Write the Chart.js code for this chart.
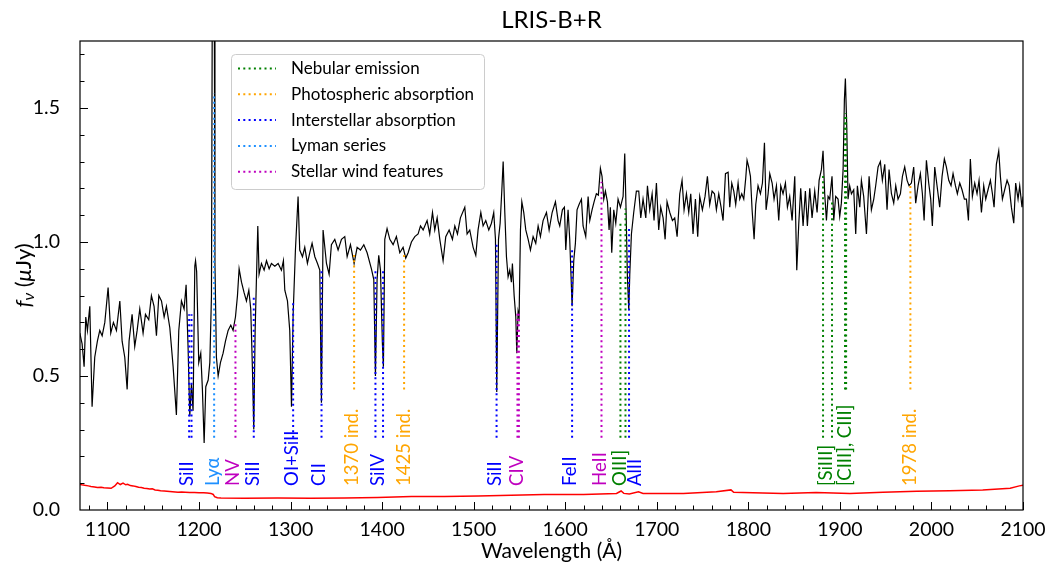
<!DOCTYPE html>
<html>
<head>
<meta charset="utf-8">
<title>LRIS-B+R</title>
<script src="https://cdn.jsdelivr.net/npm/chart.js@4.4.1/dist/chart.umd.min.js"></script>
<style>
  html, body { margin: 0; padding: 0; background: #fff; }
</style>
</head>
<body>
<canvas id="chart" width="1047" height="567"></canvas>
<script>
// Spectrum (wavelength in Angstrom, flux in microJy)
const spectrum = [
  [1069.8,0.66],[1072.3,0.62],[1074.5,0.535],[1076.3,0.72],[1078.1,0.67],[1080.7,0.76],[1083.2,0.385],[1086.1,0.57],
  [1089.0,0.63],[1091.6,0.67],[1094.2,0.65],[1097.1,0.70],[1100.7,0.83],[1103.6,0.66],[1106.5,0.70],[1109.8,0.67],
  [1113.5,0.78],[1116.0,0.63],[1118.9,0.57],[1121.5,0.45],[1123.6,0.63],[1126.9,0.73],[1129.8,0.61],[1132.4,0.67],
  [1135.3,0.75],[1138.9,0.66],[1141.5,0.73],[1145.1,0.71],[1148.0,0.80],[1150.9,0.76],[1153.5,0.65],[1156.1,0.80],
  [1159.0,0.78],[1161.9,0.72],[1164.4,0.76],[1168.1,0.68],[1171.7,0.535],[1175.3,0.355],[1177.9,0.67],[1180.8,0.78],
  [1183.7,0.75],[1185.9,0.84],[1188.1,0.60],[1189.9,0.35],[1191.7,0.47],[1193.5,0.37],[1195.4,0.91],[1196.2,0.93],
  [1197.4,0.89],[1199.7,0.55],[1201.9,0.585],[1203.7,0.45],[1205.6,0.25],[1207.4,0.46],[1210.0,0.485],[1211.8,0.55],
  [1213.6,0.80],[1214.8,2.3],[1216.4,2.3],[1217.4,0.92],[1219.0,0.57],[1220.9,0.50],[1223.4,0.55],[1226.3,0.585],
  [1228.9,0.63],[1231.8,0.67],[1234.7,0.69],[1237.2,0.67],[1239.8,0.72],[1242.0,0.80],[1243.8,0.90],[1246.4,0.85],
  [1249.3,0.81],[1251.8,0.78],[1254.4,0.82],[1256.5,0.75],[1258.4,0.52],[1259.8,0.30],[1261.3,0.67],[1262.7,0.86],
  [1264.2,1.06],[1265.6,0.88],[1268.2,0.92],[1271.1,0.895],[1273.7,0.93],[1276.6,0.90],[1279.1,0.92],[1282.8,0.91],
  [1286.4,0.92],[1290.0,0.895],[1292.2,0.93],[1293.7,0.82],[1296.6,0.78],[1299.1,0.67],[1301.0,0.385],[1302.8,0.73],
  [1305.3,0.97],[1308.2,1.17],[1310.0,0.97],[1313.0,0.945],[1315.5,0.98],[1318.4,0.92],[1321.0,0.96],[1323.5,0.995],
  [1326.5,0.945],[1329.4,0.92],[1331.9,0.895],[1333.7,0.40],[1335.5,1.045],[1339.2,0.92],[1342.1,0.88],[1344.6,0.99],
  [1348.3,1.01],[1351.9,0.97],[1355.6,1.01],[1359.2,1.02],[1361.8,0.945],[1365.4,0.99],[1369.4,0.92],[1372.7,0.98],
  [1376.3,0.97],[1380.0,0.99],[1383.6,0.96],[1388.3,0.90],[1390.9,0.86],[1392.7,0.50],[1394.5,0.86],[1396.3,0.95],
  [1398.2,0.895],[1400.3,0.62],[1401.4,0.535],[1402.9,1.01],[1405.4,1.05],[1408.4,1.01],[1412.0,0.99],[1415.6,1.02],
  [1419.3,0.96],[1422.9,0.98],[1425.8,0.94],[1428.4,0.96],[1432.0,1.00],[1435.7,1.02],[1439.3,1.03],[1441.9,1.06],
  [1444.8,1.045],[1449.1,1.08],[1452.0,1.03],[1455.0,1.11],[1457.5,1.045],[1460.1,1.09],[1463.0,1.01],[1466.6,0.93],
  [1469.5,1.02],[1473.2,1.045],[1476.8,1.01],[1479.4,1.06],[1482.3,1.03],[1485.5,1.09],[1490.3,1.13],[1492.8,1.03],
  [1495.7,1.045],[1499.4,0.98],[1502.3,0.95],[1504.8,1.045],[1507.8,1.11],[1510.3,1.06],[1513.2,1.08],[1516.5,1.045],
  [1519.4,1.07],[1521.9,1.11],[1523.8,1.01],[1525.2,0.44],[1527.1,1.01],[1528.9,1.07],[1530.7,1.19],[1532.2,1.30],
  [1534.0,1.11],[1535.8,0.945],[1537.6,0.87],[1539.4,0.895],[1541.2,0.85],[1542.3,0.92],[1544.2,0.80],[1546.0,0.72],
  [1547.1,0.585],[1548.5,0.74],[1549.6,0.72],[1551.1,1.045],[1552.6,1.15],[1554.7,1.11],[1556.9,1.045],[1559.5,1.01],
  [1562.0,0.97],[1564.9,1.02],[1567.8,0.995],[1570.4,1.06],[1572.9,1.02],[1575.8,1.08],[1579.5,1.11],[1582.4,1.045],
  [1585.7,1.11],[1589.3,1.15],[1592.2,1.08],[1594.0,1.06],[1596.9,1.12],[1599.1,1.13],[1600.6,0.97],[1603.1,1.12],
  [1604.9,1.01],[1607.5,0.76],[1609.3,0.93],[1611.1,0.995],[1612.9,1.12],[1615.1,1.14],[1617.7,1.16],[1619.5,1.06],
  [1622.4,1.02],[1625.0,1.17],[1626.8,1.08],[1629.3,1.12],[1631.5,1.15],[1634.0,1.18],[1636.2,1.175],[1638.4,1.275],
  [1640.2,1.245],[1642.1,1.16],[1643.9,1.19],[1646.1,1.15],[1647.9,1.045],[1649.3,1.13],[1650.8,0.96],[1653.0,1.12],
  [1655.2,1.07],[1657.7,1.16],[1660.3,1.13],[1663.2,1.17],[1665.0,1.33],[1666.5,1.11],[1667.9,0.87],[1669.4,0.745],
  [1670.5,0.88],[1672.3,1.03],[1674.8,1.11],[1677.7,1.19],[1680.3,1.19],[1682.5,1.09],[1685.0,1.16],[1688.0,1.09],
  [1689.8,1.21],[1692.3,1.12],[1694.9,1.18],[1697.0,1.08],[1699.6,1.22],[1702.1,1.045],[1704.3,1.13],[1706.9,1.09],
  [1709.1,1.01],[1711.2,1.15],[1714.2,1.11],[1717.1,1.08],[1719.6,1.09],[1722.2,1.02],[1725.1,1.18],[1727.6,1.23],
  [1729.8,1.12],[1732.4,1.18],[1734.9,1.11],[1737.1,1.18],[1739.6,1.03],[1742.2,1.16],[1744.7,1.02],[1746.9,1.17],
  [1749.8,1.12],[1752.7,1.17],[1755.3,1.245],[1757.8,1.14],[1760.4,1.19],[1763.0,1.18],[1765.1,1.12],[1767.7,1.18],
  [1770.2,1.13],[1772.4,1.08],[1775.0,1.255],[1777.9,1.26],[1779.7,1.13],[1781.9,1.22],[1784.1,1.19],[1786.2,1.14],
  [1788.8,1.22],[1790.6,1.16],[1792.8,1.18],[1795.0,1.16],[1797.2,1.24],[1798.6,1.305],[1800.4,1.28],[1802.3,1.245],
  [1804.1,1.12],[1806.3,1.01],[1808.1,1.14],[1810.6,1.21],[1813.2,1.18],[1815.4,1.22],[1817.6,1.37],[1819.4,1.12],
  [1821.6,1.18],[1823.4,1.255],[1826.0,1.22],[1828.1,1.16],[1830.7,1.21],[1833.2,1.08],[1835.4,1.21],[1837.9,1.18],
  [1840.5,1.22],[1842.7,1.13],[1845.2,1.17],[1847.8,1.08],[1850.7,1.245],[1852.9,0.895],[1855.1,1.07],[1857.2,1.20],
  [1859.8,1.06],[1862.3,1.19],[1864.5,1.06],[1867.1,1.20],[1869.6,1.09],[1872.5,1.19],[1875.1,1.11],[1877.3,1.23],
  [1879.8,1.27],[1881.6,1.34],[1883.4,1.18],[1885.3,1.08],[1887.1,1.17],[1888.9,1.16],[1891.4,1.245],[1893.3,1.08],
  [1895.4,1.17],[1898.0,1.16],[1899.8,1.095],[1901.6,1.145],[1903.5,1.27],[1904.9,1.53],[1906.0,1.61],[1907.5,1.43],
  [1908.9,1.16],[1910.7,1.21],[1912.6,1.18],[1915.1,1.195],[1917.3,1.03],[1919.1,1.21],[1921.7,1.13],[1923.5,1.23],
  [1926.0,1.17],[1929.0,1.03],[1931.9,1.245],[1934.4,1.12],[1937.0,1.16],[1939.1,1.21],[1941.7,1.28],[1944.2,1.30],
  [1946.4,1.23],[1949.0,1.29],[1951.5,1.12],[1953.7,1.27],[1956.3,1.18],[1958.8,1.145],[1961.0,1.21],[1963.5,1.16],
  [1966.1,1.18],[1968.3,1.245],[1970.8,1.28],[1973.4,1.23],[1975.5,1.21],[1978.1,1.22],[1980.6,1.28],[1982.8,1.145],
  [1985.4,1.21],[1987.9,1.255],[1990.1,1.18],[1992.0,1.08],[1994.5,1.305],[1997.0,1.22],[1999.2,1.16],[2001.0,1.06],
  [2003.6,1.28],[2006.1,1.21],[2009.0,1.13],[2011.6,1.245],[2014.1,1.31],[2016.3,1.28],[2018.9,1.23],[2021.4,1.21],
  [2023.6,1.255],[2026.2,1.21],[2028.3,1.18],[2030.9,1.22],[2033.4,1.195],[2036.0,1.16],[2038.2,1.16],[2040.4,1.08],
  [2042.5,1.31],[2044.7,1.17],[2047.3,1.22],[2049.8,1.18],[2052.0,1.23],[2054.6,1.11],[2057.1,1.21],[2059.3,1.16],
  [2061.8,1.195],[2064.4,1.23],[2066.6,1.18],[2068.4,1.13],[2070.9,1.29],[2073.5,1.34],[2075.3,1.245],[2077.5,1.16],
  [2080.0,1.195],[2082.6,1.23],[2084.8,1.21],[2087.3,1.13],[2089.9,1.07],[2092.0,1.22],[2094.6,1.16],[2096.4,1.21],
  [2098.9,1.13],[2100.0,1.17]
];

// 1-sigma error spectrum (red)
const errorSpectrum = [
  [1068,0.097],[1072,0.094],[1075,0.092],[1079,0.090],[1082,0.088],[1086,0.086],[1089,0.084],[1093,0.085],
  [1096,0.083],[1100,0.082],[1104,0.081],[1108,0.090],[1111,0.102],[1114,0.095],[1117,0.100],[1120,0.094],
  [1122,0.096],[1125,0.091],[1128,0.090],[1131,0.088],[1134,0.085],[1137,0.084],[1140,0.081],[1143,0.080],
  [1146,0.078],[1149,0.079],[1152,0.075],[1155,0.074],[1158,0.072],[1162,0.071],[1165,0.070],[1168,0.069],
  [1171,0.068],[1174,0.067],[1177,0.066],[1181,0.067],[1185,0.066],[1190,0.065],[1195,0.065],[1200,0.064],
  [1205,0.064],[1209,0.063],[1213,0.062],[1215.5,0.058],[1217,0.050],[1220,0.046],[1224,0.045],[1250,0.044],
  [1286,0.045],[1322,0.044],[1359,0.045],[1395,0.047],[1432,0.050],[1468,0.050],[1505,0.052],[1541,0.055],
  [1577,0.058],[1620,0.058],[1656,0.062],[1661,0.071],[1664,0.062],[1670,0.060],[1680,0.068],[1685,0.062],
  [1692,0.062],[1729,0.062],[1765,0.068],[1781,0.075],[1784,0.066],[1794,0.065],[1838,0.062],[1874,0.065],
  [1911,0.062],[1947,0.066],[1984,0.070],[2020,0.072],[2056,0.075],[2086,0.081],[2096,0.090],[2100,0.092]
];

// Line categories (legend order)
const categories = ['Nebular emission', 'Photospheric absorption', 'Interstellar absorption', 'Lyman series', 'Stellar wind features'];
const categoryColors = ['#008000', '#ffa500', '#0000ff', '#1e90ff', '#bf00bf'];

// Marked features: wavelength, category index, lower and upper end of the dotted line
const lineWave = [1189.2, 1191.8, 1216.5, 1239.8, 1259.8, 1302.8, 1333.8, 1369.4, 1392.7, 1401.0, 1424.0,
                  1525.0, 1547.8, 1549.4, 1607.5, 1639.6, 1660.3, 1665.8, 1669.7, 1881.6, 1891.4, 1905.6, 1906.8, 1977.0];
const lineCat  = [2, 2, 3, 4, 2, 2, 2, 1, 2, 2, 1, 2, 4, 4, 2, 4, 0, 0, 2, 0, 0, 0, 0, 1];
const lineLow  = [0.27, 0.27, 0.27, 0.27, 0.27, 0.27, 0.27, 0.45, 0.27, 0.27, 0.45,
                  0.27, 0.27, 0.27, 0.27, 0.27, 0.27, 0.27, 0.27, 0.27, 0.27, 0.45, 0.45, 0.45];
const lineHigh = [0.73, 0.73, 1.556, 0.70, 0.80, 0.78, 0.90, 0.955, 0.90, 0.90, 0.955,
                  1.00, 0.735, 0.735, 0.97, 1.225, 1.075, 1.125, 1.05, 1.25, 1.15, 1.48, 1.48, 1.22];

// Feature labels below the lines
const labelText = ['SiII', 'Lyα', 'NV', 'SiII', 'OI+SiII', 'CII', '1370 ind.', 'SiIV', '1425 ind.', 'SiII', 'CIV',
                   'FeII', 'HeII', 'OIII]', 'AlII', '[SiIII]', '[CIII], CIII]', '1978 ind.'];
const labelWave = [1186.7, 1215.0, 1237.4, 1258.7, 1301.3, 1331.4, 1367.4, 1395.3, 1423.6, 1523.0, 1547.0,
                   1605.0, 1637.7, 1659.6, 1676.0, 1884.5, 1905.3, 1976.3];
const labelCat  = [2, 3, 4, 2, 2, 2, 1, 2, 1, 2, 4, 2, 4, 0, 2, 0, 0, 1];
const labelBase = 0.09;

const xTicks = [1100, 1200, 1300, 1400, 1500, 1600, 1700, 1800, 1900, 2000, 2100];
const yTicks = [0.0, 0.5, 1.0, 1.5];
const xMinorStep = 20;
const yMinorStep = 0.1;

const FONT = 'Lato, "DejaVu Sans", sans-serif';
const DOT = [2, 3.3];

// datasets
const datasets = [];
lineWave.forEach((w, i) => {
  datasets.push({
    data: [{ x: w, y: lineLow[i] }, { x: w, y: lineHigh[i] }],
    borderColor: categoryColors[lineCat[i]],
    borderWidth: 2,
    borderDash: DOT,
    borderCapStyle: 'butt',
    pointRadius: 0,
    order: 0
  });
});
datasets.push({
  data: spectrum.map(p => ({ x: p[0], y: p[1] })),
  borderColor: '#000',
  borderWidth: 1.2,
  pointRadius: 0,
  tension: 0,
  clip: 0,
  order: 2
});
datasets.push({
  data: errorSpectrum.map(p => ({ x: p[0], y: p[1] })),
  borderColor: '#ff0000',
  borderWidth: 1.5,
  pointRadius: 0,
  tension: 0,
  clip: 0,
  order: 1
});

const decorations = {
  id: 'decorations',
  afterDatasetsDraw(chart) {
    const { ctx, chartArea: a, scales: { x, y } } = chart;
    ctx.save();

    // feature labels, rotated
    ctx.font = '18.5px ' + FONT;
    ctx.textAlign = 'left';
    ctx.textBaseline = 'middle';
    labelText.forEach((t, i) => {
      ctx.save();
      ctx.translate(x.getPixelForValue(labelWave[i]), y.getPixelForValue(labelBase));
      ctx.rotate(-Math.PI / 2);
      ctx.fillStyle = categoryColors[labelCat[i]];
      ctx.fillText(t, 0, 0);
      ctx.restore();
    });

    // frame
    ctx.strokeStyle = '#000';
    ctx.lineWidth = 1.2;
    ctx.strokeRect(a.left, a.top, a.right - a.left, a.bottom - a.top);

    // inward ticks
    ctx.lineWidth = 1;
    ctx.beginPath();
    for (let v = 1080; v <= 2100; v += xMinorStep) {
      const px = Math.round(x.getPixelForValue(v)) + 0.5;
      const len = v % 100 === 0 ? 8 : 4.5;
      ctx.moveTo(px, a.bottom);
      ctx.lineTo(px, a.bottom - len);
    }
    for (let i = 1; i * yMinorStep <= 1.75; i++) {
      const py = Math.round(y.getPixelForValue(i * yMinorStep)) + 0.5;
      const len = i % 5 === 0 ? 8 : 4.5;
      ctx.moveTo(a.left, py);
      ctx.lineTo(a.left + len, py);
    }
    ctx.stroke();

    // legend
    const lx = a.left + 151, ly = a.top + 13, lw = 253, lh = 135;
    ctx.beginPath();
    ctx.roundRect(lx + 0.5, ly + 0.5, lw, lh, 4);
    ctx.fillStyle = 'rgba(255,255,255,0.8)';
    ctx.fill();
    ctx.strokeStyle = '#cccccc';
    ctx.lineWidth = 1;
    ctx.stroke();
    ctx.font = '17px ' + FONT;
    ctx.textBaseline = 'middle';
    categories.forEach((c, i) => {
      const ry = ly + 14.5 + i * 25.8;
      ctx.beginPath();
      ctx.setLineDash(DOT);
      ctx.strokeStyle = categoryColors[i];
      ctx.lineWidth = 2;
      ctx.moveTo(lx + 7, ry);
      ctx.lineTo(lx + 45, ry);
      ctx.stroke();
      ctx.setLineDash([]);
      ctx.fillStyle = '#000';
      ctx.fillText(c, lx + 60, ry);
    });

    // y axis title: f_nu (muJy)
    const parts = [
      { t: 'f', f: 'italic 22px ' + FONT, dy: 0 },
      { t: 'ν', f: 'italic 16px ' + FONT, dy: 5 },
      { t: ' (', f: '22px ' + FONT, dy: 0 },
      { t: 'μ', f: 'italic 22px ' + FONT, dy: 0 },
      { t: 'Jy)', f: '22px ' + FONT, dy: 0 }
    ];
    let total = 0;
    parts.forEach(p => { ctx.font = p.f; p.w = ctx.measureText(p.t).width; total += p.w; });
    ctx.save();
    ctx.translate(a.left - 56, (a.top + a.bottom) / 2);
    ctx.rotate(-Math.PI / 2);
    ctx.fillStyle = '#000';
    ctx.textAlign = 'left';
    ctx.textBaseline = 'middle';
    let cx = -total / 2;
    parts.forEach(p => { ctx.font = p.f; ctx.fillText(p.t, cx, p.dy); cx += p.w; });
    ctx.restore();

    ctx.restore();
  }
};

new Chart(document.getElementById('chart'), {
  type: 'line',
  data: { datasets: datasets },
  options: {
    responsive: false,
    animation: false,
    events: [],
    layout: { padding: { left: 0, right: 24, top: 0, bottom: 0 } },
    plugins: {
      legend: { display: false },
      tooltip: { enabled: false },
      title: {
        display: true,
        fullSize: false,
        text: 'LRIS-B+R',
        color: '#000',
        font: { family: FONT, size: 24, weight: 'normal' },
        padding: { top: 6, bottom: 6.2 }
      }
    },
    scales: {
      x: {
        type: 'linear',
        min: 1070,
        max: 2100,
        grid: { display: false },
        border: { display: false },
        afterBuildTicks: s => { s.ticks = xTicks.map(v => ({ value: v })); },
        afterFit: s => { s.height = 57; },
        ticks: {
          autoSkip: false,
          maxRotation: 0,
          padding: 0.5,
          color: '#000',
          font: { family: FONT, size: 19.5 },
          callback: v => String(v)
        },
        title: {
          display: true,
          text: 'Wavelength (Å)',
          color: '#000',
          font: { family: FONT, size: 21 },
          padding: { top: 0, bottom: 3.5 }
        }
      },
      y: {
        min: 0,
        max: 1.75,
        grid: { display: false },
        border: { display: false },
        afterBuildTicks: s => { s.ticks = yTicks.map(v => ({ value: v })); },
        afterFit: s => { s.width = 80; },
        ticks: {
          padding: 12,
          color: '#000',
          font: { family: FONT, size: 19.5 },
          callback: v => v.toFixed(1)
        }
      }
    }
  },
  plugins: [decorations]
});
</script>
</body>
</html>
